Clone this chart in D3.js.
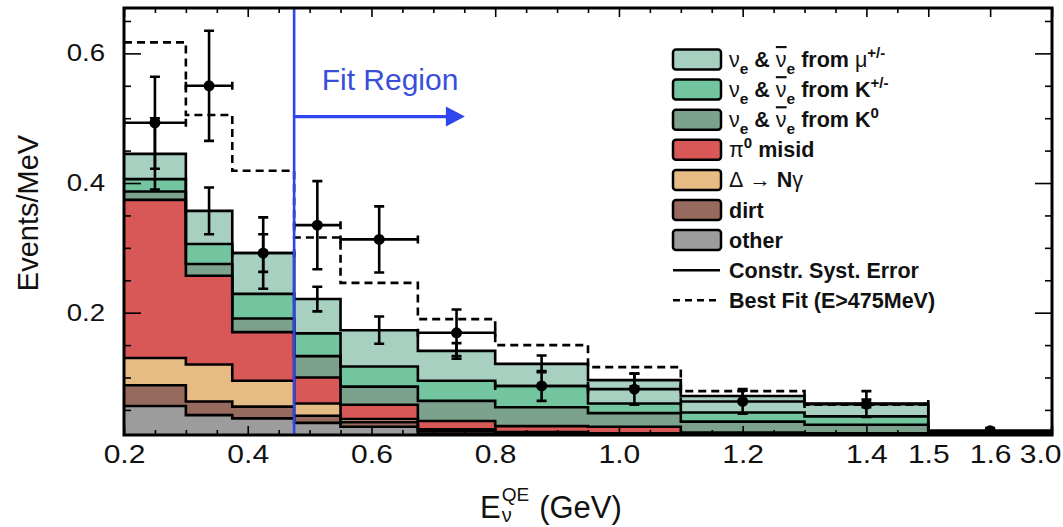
<!DOCTYPE html>
<html><head><meta charset="utf-8">
<script src="https://cdn.jsdelivr.net/npm/d3@7"></script>
<style>
body{margin:0;background:#fff}
svg{display:block}
text{font-family:"Liberation Sans",Arial,Helvetica,sans-serif;fill:#111}
</style>
</head><body>
<svg id="c" width="1063" height="527"></svg>
<script>
// ---------- data ----------
const binEdges = [0.2,0.3,0.375,0.475,0.55,0.675,0.8,0.95,1.1,1.3,1.5,3.0];
const other   = [0.056,0.042,0.037,0.030,0.024,0.013,0.012,0.011,0.011,0.011,0.010];
const dirt    = [0.032,0.021,0.018,0.011,0.007,0.004,0.002,0.001,0.001,0.001,0.001];
const deltaNg = [0.042,0.057,0.040,0.019,0.005,0.003,0.002,0.002,0.001,0.001,0.001];
const pi0     = [0.244,0.137,0.075,0.040,0.022,0.013,0.009,0.010,0.002,0.001,0.001];
const fromK0  = [0.013,0.018,0.021,0.033,0.028,0.031,0.029,0.021,0.017,0.013,0.001];
const fromKpm = [0.019,0.031,0.038,0.035,0.031,0.031,0.033,0.015,0.014,0.013,0.001];
const fromMu  = [0.039,0.051,0.063,0.053,0.056,0.046,0.034,0.036,0.0255,0.020,0.001];
const systErr = [0.055,0.036,0.029,0.019,0.021,0.012,0.013,0.010,0.008,0.006,0.002];
const bestFit = [0.617,0.505,0.419,0.316,0.246,0.190,0.150,0.116,0.079,0.058,0.016];
const dataVals= [0.493,0.550,0.292,0.335,0.313,0.169,0.087,0.082,0.063,0.059,0.018];
const dataErr = [0.071,0.085,0.055,0.068,0.051,0.036,0.023,0.024,0.019,0.020,0.004];

const xTickVals   = [0.2,0.4,0.6,0.8,1.0,1.2,1.4,1.5,1.6,3.0];
const xTickLabels = ["0.2","0.4","0.6","0.8","1.0","1.2","1.4","1.5","1.6","3.0"];
const yTickVals   = [0.2,0.4,0.6];
const yTickLabels = ["0.2","0.4","0.6"];

const layerKeys   = ["other","dirt","deltaNg","pi0","fromK0","fromKpm","fromMu"];
const legendKeys  = ["fromMu","fromKpm","fromK0","pi0","deltaNg","dirt","other"];
const legendLabels= ["ν_{e} & ν\u0304_{e} from μ^{+/-}","ν_{e} & ν\u0304_{e} from K^{+/-}","ν_{e} & ν\u0304_{e} from K^{0}",
                     "π^{0} misid","Δ → Nγ","dirt","other","Constr. Syst. Error","Best Fit (E>475MeV)"];
const fitRegionStart = 0.475, fitArrowEnd = 0.751, fitArrowY = 0.5025, fitLabelX = 0.63;

// ---------- layout ----------
const W=1063,H=527, m={l:124,r:11,t:8,b:92};
const iw=W-m.l-m.r, ih=H-m.t-m.b;
const colors={other:"#9c9c9c",dirt:"#966a5c",deltaNg:"#e7bb84",pi0:"#d85858",
              fromK0:"#7ca28d",fromKpm:"#73c5a0",fromMu:"#a8d0c0"};
const svg=d3.select("#c");
const g=svg.append("g").attr("transform",`translate(${m.l},${m.t})`);

const lin=d3.scaleLinear().domain([0.2,1.7]).range([0,iw]);
const x=d3.scaleLinear().domain([0.2,1.5,1.6,3.0]).range([0.2,1.5,1.6,1.7].map(lin));
const y=d3.scaleLinear().domain([0.0113,0.670]).range([ih,0]);

svg.append("defs").append("clipPath").attr("id","clip")
  .append("rect").attr("width",iw).attr("height",ih);
const plot=g.append("g").attr("clip-path","url(#clip)");

// ---------- stack ----------
const series={other,dirt,deltaNg,pi0,fromK0,fromKpm,fromMu};
const rows=binEdges.slice(0,-1).map((e,i)=>{
  const r={lo:e,hi:binEdges[i+1]}; layerKeys.forEach(k=>r[k]=series[k][i]); return r;});
const stacked=d3.stack().keys(layerKeys)(rows);
const stepPts=layer=>{
  const p=layer.map(d=>({e:d.data.lo,y0:d[0],y1:d[1]}));
  const L=layer[layer.length-1]; p.push({e:L.data.hi,y0:L[0],y1:L[1]}); return p;};
const area=d3.area().x(d=>x(d.e)).y0(d=>y(d.y0)).y1(d=>y(d.y1)).curve(d3.curveStepAfter);
const stepLine=d3.line().x(d=>x(d.e)).y(d=>y(d.y1)).curve(d3.curveStepAfter);

plot.selectAll("path.fill").data(stacked).join("path").attr("class","fill")
  .attr("d",s=>area(stepPts(s))).attr("fill",s=>colors[s.key]);
plot.selectAll("path.outl").data(stacked).join("path").attr("class","outl")
  .attr("d",s=>stepLine(stepPts(s))).attr("fill","none")
  .attr("stroke","#000").attr("stroke-width",2.6);

// best fit dashed
const bfPts=bestFit.map((v,i)=>({e:binEdges[i],y1:v}));
bfPts.push({e:binEdges[binEdges.length-1],y1:bestFit[bestFit.length-1]});
plot.append("path").attr("d",stepLine(bfPts)).attr("fill","none")
  .attr("stroke","#000").attr("stroke-width",2.6).attr("stroke-dasharray","8,5");

// syst error bars on prediction
const totals=stacked[stacked.length-1].map(d=>d[1]);
const cx=i=>(x(binEdges[i])+x(binEdges[i+1]))/2;
plot.selectAll("path.syst").data(totals).join("path").attr("class","syst")
  .attr("d",(t,i)=>{const c=cx(i),a=y(t+systErr[i]),b=y(t-systErr[i]);
    return `M${c-5},${a}H${c+5}M${c},${a}V${b}M${c-5},${b}H${c+5}`;})
  .attr("fill","none").attr("stroke","#000").attr("stroke-width",2.6);

// data points
plot.selectAll("path.derr").data(dataVals).join("path").attr("class","derr")
  .attr("d",(v,i)=>{const c=cx(i),a=y(v+dataErr[i]),b=y(v-dataErr[i]),yy=y(v),
      l=x(binEdges[i]),r=x(binEdges[i+1]);
    return `M${c-5},${a}H${c+5}M${c},${a}V${b}M${c-5},${b}H${c+5}`+
           `M${l},${yy}H${r}M${l},${yy-4}V${yy+4}M${r},${yy-4}V${yy+4}`;})
  .attr("fill","none").attr("stroke","#000").attr("stroke-width",2.6);
plot.selectAll("circle.dot").data(dataVals).join("circle").attr("class","dot")
  .attr("cx",(v,i)=>cx(i)).attr("cy",v=>y(v)).attr("r",5.5).attr("fill","#000");

// ---------- fit region annotation ----------
const blue="#2f46ee";
g.append("line").attr("x1",x(fitRegionStart)).attr("x2",x(fitRegionStart))
  .attr("y1",0).attr("y2",ih).attr("stroke",blue).attr("stroke-width",2.6);
const ax1=x(fitRegionStart), ax2=x(fitArrowEnd), ay=y(fitArrowY);
g.append("line").attr("x1",ax1).attr("x2",ax2-16).attr("y1",ay).attr("y2",ay)
  .attr("stroke",blue).attr("stroke-width",3.2);
g.append("path").attr("d",`M${ax2},${ay}L${ax2-19},${ay-10}L${ax2-19},${ay+10}Z`).attr("fill",blue);
g.append("text").attr("x",x(fitLabelX)).attr("y",ay-27).attr("text-anchor","middle")
  .attr("font-size",30).style("fill","#3a4fd8").text("Fit Region");

// ---------- axes ----------
const tickStyle=s=>{s.select(".domain").remove();s.selectAll("line").attr("stroke","#000").attr("stroke-width",1.6);};
const xMinor=d3.range(0.25,1.5,0.05).filter(v=>Math.abs(v*5-Math.round(v*5))>1e-6);
const yMinor=d3.range(0.05,0.66,0.05).filter(v=>Math.abs(v*5-Math.round(v*5))>1e-6);

const xb=g.append("g").attr("transform",`translate(0,${ih})`)
  .call(d3.axisBottom(x).tickValues(xTickVals).tickFormat((d,i)=>xTickLabels[i])
        .tickSizeInner(-9).tickSizeOuter(0).tickPadding(10)).call(tickStyle);
g.append("g").attr("transform",`translate(0,${ih})`)
  .call(d3.axisBottom(x).tickValues(xMinor).tickFormat("").tickSizeInner(-5).tickSizeOuter(0)).call(tickStyle);
g.append("g").call(d3.axisTop(x).tickValues(xTickVals).tickFormat("").tickSizeInner(-9).tickSizeOuter(0)).call(tickStyle);
g.append("g").call(d3.axisTop(x).tickValues(xMinor).tickFormat("").tickSizeInner(-5).tickSizeOuter(0)).call(tickStyle);

const yl=g.append("g").call(d3.axisLeft(y).tickValues(yTickVals).tickFormat((d,i)=>yTickLabels[i])
        .tickSizeInner(-17).tickSizeOuter(0).tickPadding(19)).call(tickStyle);
g.append("g").call(d3.axisLeft(y).tickValues(yMinor).tickFormat("").tickSizeInner(-7).tickSizeOuter(0)).call(tickStyle);
g.append("g").attr("transform",`translate(${iw},0)`)
  .call(d3.axisRight(y).tickValues(yTickVals).tickFormat("").tickSizeInner(-17).tickSizeOuter(0)).call(tickStyle);
g.append("g").attr("transform",`translate(${iw},0)`)
  .call(d3.axisRight(y).tickValues(yMinor).tickFormat("").tickSizeInner(-7).tickSizeOuter(0)).call(tickStyle);

xb.selectAll("text").attr("font-size",25).attr("font-family",null).style("fill","#111");
yl.selectAll("text").attr("font-size",23).attr("font-family",null).style("fill","#111");
const stretch=(sel,f)=>sel.each(function(){const w=this.getComputedTextLength();
  d3.select(this).attr("textLength",w*f).attr("lengthAdjust","spacingAndGlyphs");});
stretch(xb.selectAll("text"),1.2);
stretch(yl.selectAll("text"),1.2);
xb.selectAll("text").filter((d,i)=>i===xTickVals.length-1).attr("text-anchor","end").attr("x",9);

// frame
g.append("rect").attr("width",iw).attr("height",ih).attr("fill","none")
  .attr("stroke","#000").attr("stroke-width",3);

// ---------- titles ----------
svg.append("text").attr("transform",`translate(38,${m.t+205}) rotate(-90)`)
  .attr("text-anchor","middle").attr("font-size",29).text("Events/MeV");

const xt=svg.append("g");
const tE=xt.append("text").attr("x",480).attr("y",518).attr("font-size",31).text("E");
const eW=tE.node().getComputedTextLength();
const tQ=xt.append("text").attr("x",480+eW+1).attr("y",501).attr("font-size",19).text("QE");
xt.append("text").attr("x",480+eW+1).attr("y",522).attr("font-size",20).text("ν");
const qW=tQ.node().getComputedTextLength();
xt.append("text").attr("x",480+eW+1+qW+10).attr("y",518).attr("font-size",31).text("(GeV)");

// ---------- legend ----------
function rich(sel,str,base){
  const parts=str.split(/(_\{[^}]*\}|\^\{[^}]*\})/).filter(s=>s.length);
  let shift=0;
  parts.forEach(p=>{
    let t=p,target=0,fs=base;
    if(p.startsWith("_{")){t=p.slice(2,-1);target=base*0.32;fs=base*0.72;}
    else if(p.startsWith("^{")){t=p.slice(2,-1);target=-base*0.42;fs=base*0.7;}
    const runs=t.match(/[\u0370-\u03FF]\u0304|[\u0370-\u03FF\u0300-\u036F]+|[^\u0370-\u03FF\u0300-\u036F]+/g);
    runs.forEach((r,j)=>{
      const bar=r.includes("\u0304");
      const ts=sel.append("tspan").attr("font-size",fs).text(bar?r.replace("\u0304",""):r);
      if(j===0){ts.attr("dy",target-shift);shift=target;}
      if(/[\u0370-\u03FF]/.test(r)) ts.attr("font-weight","normal");
      if(bar) ts.style("text-decoration","overline");
    });
  });
}
const lg=svg.append("g").attr("transform","translate(673,59.5)");
const rowH=30.1;
legendLabels.forEach((lab,i)=>{
  const r=lg.append("g").attr("transform",`translate(0,${i*rowH})`);
  if(i<legendKeys.length){
    r.append("rect").attr("x",0).attr("y",-10).attr("width",48).attr("height",20).attr("rx",3)
      .attr("fill",colors[legendKeys[i]]).attr("stroke","#000").attr("stroke-width",2.5);
  } else {
    r.append("line").attr("x1",0).attr("x2",47).attr("y1",0).attr("y2",0)
      .attr("stroke","#000").attr("stroke-width",2.5)
      .attr("stroke-dasharray",i===legendLabels.length-1?"7,5":null);
  }
  const t=r.append("text").attr("x",56).attr("y",7.5).attr("font-size",21.5).attr("font-weight","bold");
  rich(t,lab,21.5);
});
</script>
</body></html>
